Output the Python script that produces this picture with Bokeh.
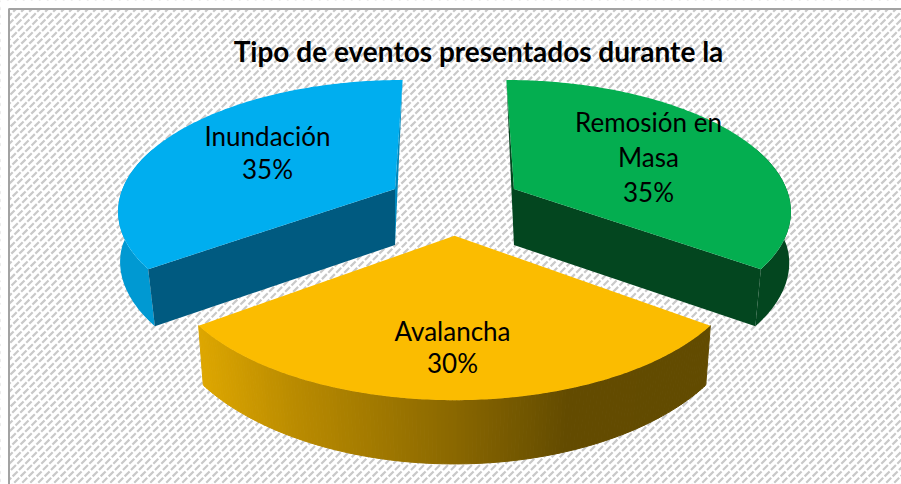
import numpy as np
from bokeh.plotting import figure
from bokeh.models import Range1d
from bokeh.embed import file_html
from bokeh.resources import INLINE
from bokeh.core.properties import value

title_text = "Tipo de eventos presentados durante la"
categories = ["Avalancha", "Inundación", "Remosión en Masa"]
shares = [30, 35, 35]
label_lines = [["Avalancha", "30%"], ["Inundación", "35%"], ["Remosión en", "Masa", "35%"]]

top_colors = ["#FBBC00", "#00AEEF", "#04AE50"]
inner_colors = ["#644C00", "#005A80", "#03461F"]
outer_colors = [None, "#0099D2", "#03461F"]
back_colors = [None, "#0088BC", "#03461F"]
taper = [0.018, 0.027, 0.022]
label_centers = [(452, 346), (267, 152), (648, 156)]
label_spacing = [32, 33, 35]

W, H = 901, 484
CX, CY, R, K, P, EXPLODE = 454.0, 202.5, 277.0, 129.0, 0.149, 0.245
MARGIN = 8


def project(theta, mid, r=1.0):
    t, m = np.radians(theta), np.radians(mid)
    u = -np.sin(m) * EXPLODE - r * np.sin(t)
    v = np.cos(m) * EXPLODE + r * np.cos(t)
    s = 1.0 / (1.0 - P * v)
    return CX + R * u * s, CY + K * v * s, v


def lower(theta, px, py, v, ax, tp):
    bend = np.maximum(0.0, np.cos(np.radians(theta)))
    shift = tp * (px - ax) * bend / np.cos(np.radians(54.0))
    return px - shift, py + 56 + 5 * v ** 2


p = figure(width=W, height=H, output_backend="svg", toolbar_location=None,
           x_range=Range1d(0, W), y_range=Range1d(H, 0),
           min_border=0, outline_line_color=None, background_fill_color="#ffffff")
p.axis.visible = False
p.grid.visible = False

# hatched chart area with its frame and the white page margin around it
offs = np.arange(0, W + H + 16, 8.0)
p.segment(x0=offs, y0=np.zeros_like(offs), x1=offs - H - 8, y1=np.full_like(offs, H + 8.0),
          line_color="#c9c9c9", line_width=2.2, line_dash="7 2")
p.quad(left=[0, 0], right=[MARGIN, W], bottom=[H, MARGIN], top=[0, 0],
       fill_color="#ffffff", line_color=None)
p.line(x=[MARGIN + 0.5, MARGIN + 0.5, W], y=[H, MARGIN + 0.5, MARGIN + 0.5],
       line_color="#a3a3a3", line_width=2)

start = -shares[0] * 3.6 / 2
spans = []
for s in shares:
    spans.append((start, start + s * 3.6))
    start += s * 3.6

GRAD_X = [198, 290, 454, 566, 709]
GRAD_R = [222, 187, 138, 100, 98]
GRAD_G = [167, 140, 104, 76, 75]

for i in [1, 2, 0]:
    a, b = spans[i]
    mid = (a + b) / 2
    th = np.linspace(a, b, 160)
    tx, ty, tv = project(th, mid)
    ax, ay, av = project(mid, mid, 0.0)
    bx, by = lower(th, tx, ty, tv, ax, taper[i])
    abx, aby = ax, ay + 56 + 5 * av ** 2

    if i == 0:
        xs, ys, cols = [], [], []
        for j in range(len(th) - 1):
            xs.append([tx[j], tx[j + 1], bx[j + 1], bx[j]])
            ys.append([ty[j], ty[j + 1], by[j + 1], by[j]])
            xm = (tx[j] + tx[j + 1]) / 2
            r = int(np.interp(xm, GRAD_X, GRAD_R))
            g = int(np.interp(xm, GRAD_X, GRAD_G))
            cols.append(f"#{r:02x}{g:02x}00")
        p.patches(xs=xs, ys=ys, fill_color=cols, line_color=cols, line_width=1)
    else:
        # only the part of the rim that faces the viewer
        keep = np.abs(((th + 180) % 360) - 180) < 110
        p.patch(x=list(tx[keep]) + list(bx[keep][::-1]), y=list(ty[keep]) + list(by[keep][::-1]),
                fill_color=outer_colors[i], line_color=None)
        front = 0 if i == 1 else -1
        rear = -1 if i == 1 else 0
        p.patch(x=[ax, tx[front], bx[front], abx], y=[ay, ty[front], by[front], aby],
                fill_color=inner_colors[i], line_color=None)
        p.patch(x=[tx[rear], abx, ax], y=[ty[rear], aby, ay],
                fill_color=back_colors[i], line_color=None)

    p.patch(x=[ax] + list(tx), y=[ay] + list(ty), fill_color=top_colors[i], line_color=None)

for lines, (lx, ly), sp in zip(label_lines, label_centers, label_spacing):
    n = len(lines)
    ypos = [ly + (k - (n - 1) / 2) * sp for k in range(n)]
    p.text(x=[lx] * n, y=ypos, text=lines, text_font=value("Lato"), text_font_size="26px",
           text_color="#000000", text_align="center", text_baseline="middle")

p.text(x=[478], y=[50], text=[title_text], text_font=value("Lato"), text_font_size="28px",
       text_font_style="bold", text_color="#000000", text_align="center", text_baseline="middle")

open("out.html", "w").write(file_html(p, INLINE))
